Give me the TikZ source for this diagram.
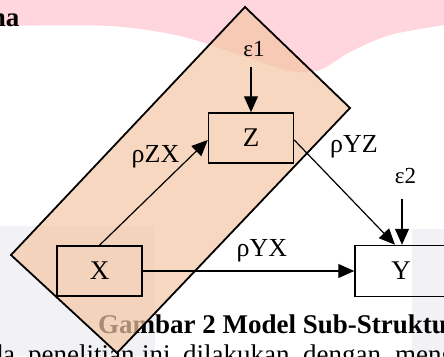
\documentclass[tikz,border=0pt]{standalone}
\usepackage{fontspec}
\setmainfont{Liberation Serif}
\usetikzlibrary{arrows.meta}
\definecolor{peach}{RGB}{245,198,165}
\definecolor{pinkbg}{RGB}{255,214,221}
\definecolor{graybg}{RGB}{242,242,246}
\begin{document}
\begin{tikzpicture}[x=1pt,y=-1pt,
  box/.style={draw,line width=1.5pt,minimum width=85pt,minimum height=50pt,inner sep=0pt,font=\fontsize{27}{30}\selectfont},
  lbl/.style={inner sep=0pt,anchor=base,font=\fontsize{26}{30}\selectfont},
  conn/.style={line width=1.2pt,-{Triangle[length=16pt,width=14pt]}},
  txt/.style={inner sep=0pt,anchor=base west,font=\fontsize{27}{30}\selectfont},
  btxt/.style={txt,font=\bfseries\fontsize{27}{30}\selectfont}]
\useasboundingbox (0,0) rectangle (444,356);
\clip (0,0) rectangle (444,356);
% background artefacts
\fill[graybg] (0,226) rectangle (155,356);
\fill[graybg] (412,229) rectangle (444,356);
\fill[pinkbg] plot[smooth] coordinates {(0,26) (110,26) (180,36) (240,55) (290,71) (320,70) (350,52) (390,35) (444,25)} -- (444,0) -- (0,0) -- cycle;
% surrounding text
\node[btxt,anchor=base east] (na) at (19.5,26) {na};
\node[btxt] (cap) at (98,333) {Gambar 2 Model Sub-Struktur};
\node[txt] (w1) at (-10.5,363) {da};
\node[txt] (w2) at (28,363) {penelitian};
\node[txt] (w3) at (142,363) {ini};
\node[txt] (w4) at (183,363) {dilakukan};
\node[txt] (w5) at (303,363) {dengan};
\node[txt] (w6) at (395,363) {meng};
% tilted rectangle
\filldraw[fill=peach,fill opacity=0.7,draw=black,line width=1.8pt] (245,7) -- (350,108) -- (117,353) -- (11,255) -- cycle;
% boxes
\node[box] (X) at (99.5,271) {X};
\node[box] (Z) at (251,138) {Z};
\node[box,minimum width=92pt,minimum height=51pt] (Y) at (401,271) {Y};
% labels
\node[lbl] (rzx) at (155.5,162) {ρZX};
\node[lbl] (ryz) at (354,152) {ρYZ};
\node[lbl] (ryx) at (262,256) {ρYX};
\node[lbl,font=\fontsize{23}{26}\selectfont] (e1) at (254,56) {ε1};
\node[lbl,font=\fontsize{23}{26}\selectfont] (e2) at (405.5,183) {ε2};
% connectors
\coordinate (e1s) at (251,67);
\coordinate (e2s) at (402,199);
\draw[conn] (e1s) -- (Z.north);
\draw[conn] (e2s) -- (e2s |- Y.north);
\draw[conn] (X.north) -- ([yshift=-2pt]Z.west);
\draw[conn] ([yshift=-2pt]Z.east) -- ([xshift=-6pt]Y.north);
\draw[conn] (X.east) -- (Y.west);
\end{tikzpicture}
\end{document}
